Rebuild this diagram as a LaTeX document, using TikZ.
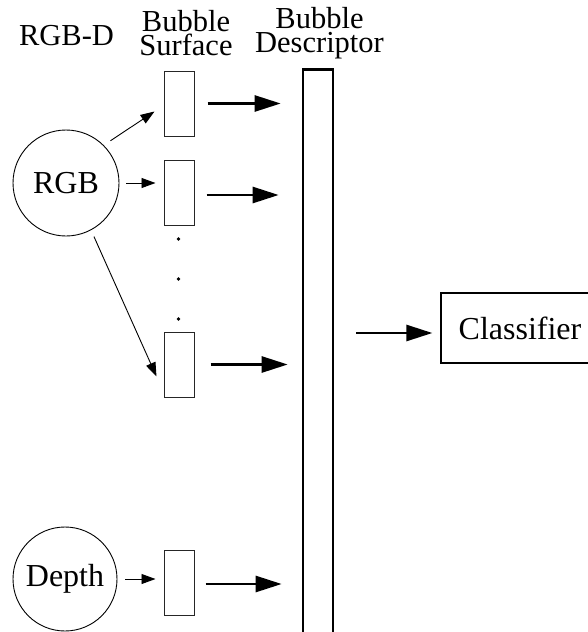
\documentclass[tikz,border=0pt]{standalone}
\usepackage{fontspec}
\setmainfont{Liberation Serif}
\usetikzlibrary{arrows.meta}

\begin{document}
\begin{tikzpicture}[x=1pt, y=-1pt,
  every node/.style={font=\fontsize{32}{32}\selectfont, inner sep=0pt},
  head/.style={font=\fontsize{30.5}{23.5}\selectfont, align=center, anchor=base},
  src/.style={draw, circle, line width=0.9pt},
  surf/.style={draw=black!85, line width=1pt, minimum width=30pt, minimum height=65pt},
  thinarrow/.style={line width=0.9pt, -{Triangle[length=14pt, width=10pt]}},
  thickarrow/.style={line width=2.6pt, -{Triangle[length=26pt, width=16pt]}},
]
\clip (0,0) rectangle (588,632);
\fill[white] (0,0) rectangle (588,632);

% column headings
\node[head] (hrgbd) at (66.5,45) {RGB-D};
\node[head] (hsurf) at (186,55) {Bubble\\Surface};
\node[head] (hdesc) at (319.5,52) {Bubble\\Descriptor};

% input modalities
\node[src, minimum size=106pt] (rgb) at (66,183) {RGB};
\node[src, minimum size=104pt] (depth) at (65,579) {Depth};

% bubble surfaces
\node[surf] (s1) at (179,103.5) {};
\node[surf] (s2) at (179,192.5) {};
\node[surf] (s3) at (179,364.5) {};
\node[surf] (s4) at (179,582.5) {};

% vertical ellipsis between surfaces
\fill (178.5,239) circle (1.8pt);
\fill (178.5,279) circle (1.8pt);
\fill (178.5,319) circle (1.8pt);

% descriptor column and classifier
\node[draw, line width=2.6pt, minimum width=30pt, minimum height=600pt, anchor=north] (desc) at (318,68) {};
\node[draw, line width=1.2pt, minimum width=158pt, minimum height=70pt] (cls) at (520,328) {Classifier};

% RGB / depth to surfaces
\draw[thinarrow, shorten <=8pt] (rgb.45) -- ([xshift=-9pt, yshift=-8pt]s1.west);
\draw[thinarrow, shorten <=7pt, shorten >=8pt] (rgb.east) -- (rgb.east -| s2.west);
\draw[thinarrow, shorten <=7pt] (rgb.-62) -- ([xshift=-7pt, yshift=-12pt]s3.west);
\draw[thinarrow, shorten <=8pt, shorten >=8pt] (depth.east) -- (depth.east -| s4.west);

% surfaces to descriptor
\draw[thickarrow, shorten <=13pt, shorten >=21pt] (s1.east) -- (s1.east -| desc.west);
\draw[thickarrow, shorten <=12pt, shorten >=23pt] ([yshift=-2.5pt]s2.east) -- ([yshift=-2.5pt]s2.east -| desc.west);
\draw[thickarrow, shorten <=16pt, shorten >=14pt] (s3.east) -- (s3.east -| desc.west);
\draw[thickarrow, shorten <=11pt, shorten >=20pt] ([yshift=-1.5pt]s4.east) -- ([yshift=-1.5pt]s4.east -| desc.west);

% descriptor to classifier
\draw[thickarrow, shorten <=22pt, shorten >=8pt] ([yshift=-5pt]cls.west -| desc.east) -- ([yshift=-5pt]cls.west);
\end{tikzpicture}
\end{document}
